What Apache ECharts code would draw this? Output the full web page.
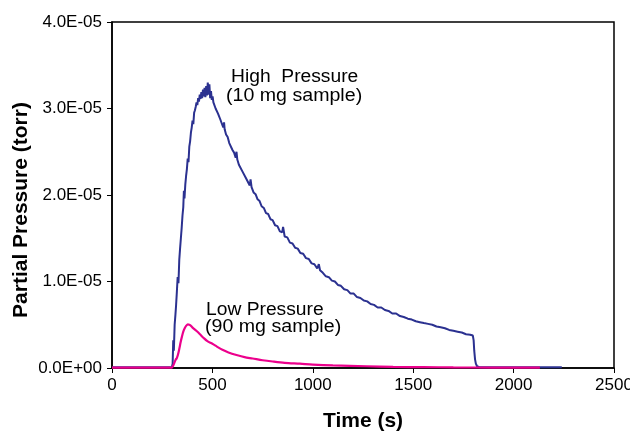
<!DOCTYPE html>
<html>
<head>
<meta charset="utf-8">
<script src="https://cdn.jsdelivr.net/npm/echarts@6/dist/echarts.min.js"></script>
<style>html,body{margin:0;padding:0;background:#fff;}#c{width:630px;height:433px;}</style>
</head>
<body>
<div id="c"></div>
<script>
// Time (s) vs partial pressure (torr)
const highPressure = [
[0,1e-7],[150,1e-7],[298,1e-7],[302,0.05e-5],[305,0.32e-5],[308,0.2e-5],[312,0.5e-5],[316,0.62e-5],[319,0.72e-5],[323,0.88e-5],[327,1.05e-5],[331,0.98e-5],[335,1.25e-5],[339,1.38e-5],[343,1.5e-5],[347,1.62e-5],[351,1.76e-5],[355,1.86e-5],[358,2.05e-5],[361,1.96e-5],[365,2.12e-5],[369,2.22e-5],[373,2.3e-5],[377,2.42e-5],[381,2.38e-5],[385,2.56e-5],[389,2.62e-5],[393,2.72e-5],[397,2.78e-5],[401,2.86e-5],[405,2.82e-5],[409,2.95e-5],[413,2.98e-5],[417,3.02e-5],[421,3.07e-5],[425,3.04e-5],[429,3.12e-5],[433,3.08e-5],[437,3.16e-5],[441,3.11e-5],[445,3.19e-5],[449,3.12e-5],[453,3.22e-5],[457,3.14e-5],[461,3.24e-5],[465,3.13e-5],[469,3.26e-5],[473,3.15e-5],[477,3.3e-5],[481,3.16e-5],[485,3.28e-5],[489,3.12e-5],[493,3.2e-5],[497,3.1e-5],[501,3.14e-5],[505,3.07e-5],[510,3.06e-5],[516,3.0e-5],[522,2.99e-5],[528,2.94e-5],[534,2.93e-5],[540,2.87e-5],[547,2.85e-5],[554,2.78e-5],[558,2.84e-5],[561,2.76e-5],[568,2.7e-5],[576,2.67e-5],[584,2.6e-5],[592,2.58e-5],[600,2.52e-5],[608,2.49e-5],[616,2.43e-5],[620,2.5e-5],[624,2.41e-5],[632,2.35e-5],[641,2.33e-5],[650,2.27e-5],[659,2.25e-5],[668,2.19e-5],[677,2.17e-5],[686,2.11e-5],[690,2.18e-5],[695,2.09e-5],[705,2.03e-5],[715,2.01e-5],[725,1.95e-5],[735,1.93e-5],[745,1.87e-5],[756,1.85e-5],[767,1.79e-5],[778,1.78e-5],[789,1.72e-5],[800,1.71e-5],[812,1.65e-5],[824,1.64e-5],[836,1.58e-5],[848,1.57e-5],[852,1.63e-5],[860,1.52e-5],[873,1.51e-5],[886,1.45e-5],[899,1.44e-5],[912,1.39e-5],[925,1.38e-5],[938,1.33e-5],[952,1.32e-5],[966,1.27e-5],[980,1.26e-5],[994,1.21e-5],[1008,1.2e-5],[1022,1.15e-5],[1030,1.2e-5],[1036,1.13e-5],[1050,1.1e-5],[1065,1.06e-5],[1080,1.05e-5],[1095,1.01e-5],[1110,1.0e-5],[1125,0.96e-5],[1140,0.95e-5],[1156,0.91e-5],[1172,0.9e-5],[1188,0.86e-5],[1204,0.86e-5],[1220,0.82e-5],[1237,0.81e-5],[1254,0.78e-5],[1271,0.77e-5],[1288,0.74e-5],[1305,0.73e-5],[1323,0.7e-5],[1341,0.7e-5],[1359,0.67e-5],[1377,0.66e-5],[1396,0.63e-5],[1415,0.63e-5],[1434,0.6e-5],[1453,0.59e-5],[1473,0.57e-5],[1493,0.56e-5],[1513,0.54e-5],[1533,0.53e-5],[1553,0.52e-5],[1574,0.51e-5],[1595,0.5e-5],[1616,0.48e-5],[1637,0.47e-5],[1658,0.46e-5],[1679,0.44e-5],[1700,0.43e-5],[1721,0.42e-5],[1742,0.41e-5],[1763,0.39e-5],[1784,0.385e-5],[1797,0.375e-5],[1801,0.32e-5],[1804,0.2e-5],[1808,0.1e-5],[1812,0.05e-5],[1818,0.02e-5],[1830,0.01e-5],[2000,0.01e-5],[2240,0.01e-5]
];
const lowPressure = [
[0,0.005e-5],[100,0.005e-5],[200,0.005e-5],[297,0.005e-5],[305,0.03e-5],[312,0.07e-5],[318,0.1e-5],[322,0.11e-5],[328,0.15e-5],[335,0.22e-5],[342,0.3e-5],[348,0.36e-5],[355,0.42e-5],[362,0.46e-5],[370,0.49e-5],[378,0.505e-5],[385,0.5e-5],[392,0.49e-5],[400,0.47e-5],[410,0.45e-5],[420,0.43e-5],[438,0.39e-5],[455,0.35e-5],[475,0.31e-5],[500,0.28e-5],[521,0.25e-5],[550,0.21e-5],[580,0.18e-5],[620,0.15e-5],[660,0.125e-5],[700,0.11e-5],[750,0.09e-5],[800,0.075e-5],[860,0.06e-5],[936,0.05e-5],[1000,0.04e-5],[1100,0.03e-5],[1268,0.02e-5],[1400,0.013e-5],[1550,0.01e-5],[1700,0.007e-5],[1900,0.005e-5],[2131,0.005e-5]
];
const yTickLabels = ['0.0E+00','1.0E-05','2.0E-05','3.0E-05','4.0E-05'];
const xTickLabels = ['0','500','1000','1500','2000','2500'];
const seriesNames = ['High Pressure (10 mg sample)','Low Pressure (90 mg sample)'];

const FONT = '"Liberation Sans", Arial, sans-serif';
const chart = echarts.init(document.getElementById('c'), null, {renderer:'canvas'});
chart.setOption({
  animation:false,
  backgroundColor:'#fff',
  grid:{left:112,right:16,top:22,bottom:65,show:true,borderColor:'#000',borderWidth:1.5,outerBoundsMode:'none',containLabel:false},
  xAxis:{
    type:'value',min:0,max:2500,interval:500,
    name:'Time (s)',nameLocation:'middle',nameGap:43,nameMoveOverlap:false,
    nameTextStyle:{fontSize:21,fontWeight:'bold',color:'#000',fontFamily:FONT},
    axisLine:{show:true,lineStyle:{color:'#000',width:1.5}},
    axisTick:{show:true,length:5,lineStyle:{color:'#000',width:1}},
    axisLabel:{fontSize:17,color:'#000',margin:9,fontFamily:FONT,
      formatter:(v)=>xTickLabels[Math.round(v/500)]},
    splitLine:{show:false}
  },
  yAxis:{
    type:'value',min:0,max:4e-5,interval:1e-5,
    name:'Partial Pressure (torr)',nameLocation:'middle',nameGap:80,nameRotate:90,nameMoveOverlap:false,
    nameTextStyle:{fontSize:21,fontWeight:'bold',color:'#000',fontFamily:FONT,padding:[0,30,0,0]},
    axisLine:{show:true,lineStyle:{color:'#000',width:1.5}},
    axisTick:{show:true,length:5,lineStyle:{color:'#000',width:1}},
    axisLabel:{fontSize:17,color:'#000',margin:10,fontFamily:FONT,
      formatter:(v)=>yTickLabels[Math.round(v/1e-5)]},
    splitLine:{show:false}
  },
  series:[
    {name:seriesNames[0],type:'line',data:highPressure,showSymbol:false,
     lineStyle:{color:'#2b3190',width:2},itemStyle:{color:'#2b3190'}},
    {name:seriesNames[1],type:'line',data:lowPressure,showSymbol:false,smooth:0.3,
     lineStyle:{color:'#ec008c',width:2.2},itemStyle:{color:'#ec008c'}}
  ],
  graphic:[
    {type:'text',x:231,y:77.5,scaleX:1.1,style:{text:'High  Pressure',fontSize:17.5,fontFamily:FONT,fill:'#000',align:'left',verticalAlign:'middle',textAlign:'left',textVerticalAlign:'middle'}},
    {type:'text',x:226,y:96.5,scaleX:1.12,style:{text:'(10 mg sample)',fontSize:17.5,fontFamily:FONT,fill:'#000',align:'left',verticalAlign:'middle',textAlign:'left',textVerticalAlign:'middle'}},
    {type:'text',x:206,y:310,scaleX:1.1,style:{text:'Low Pressure',fontSize:17.5,fontFamily:FONT,fill:'#000',align:'left',verticalAlign:'middle',textAlign:'left',textVerticalAlign:'middle'}},
    {type:'text',x:205,y:327.5,scaleX:1.12,style:{text:'(90 mg sample)',fontSize:17.5,fontFamily:FONT,fill:'#000',align:'left',verticalAlign:'middle',textAlign:'left',textVerticalAlign:'middle'}}
  ]
});
</script>
</body>
</html>
